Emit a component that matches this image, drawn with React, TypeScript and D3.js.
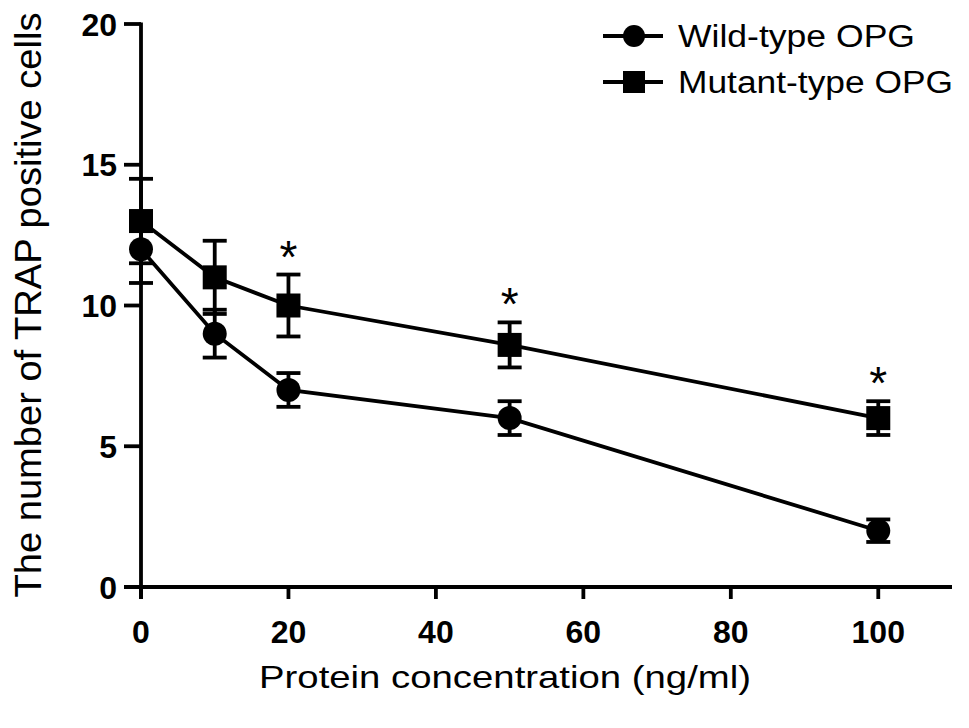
import React from "react";
import * as d3 from "d3";

const concentrations = [0, 10, 20, 50, 100];
const wildMean = [12, 9, 7, 6, 2];
const wildErr = [1.2, 0.85, 0.6, 0.6, 0.4];
const mutantMean = [13, 11, 10, 8.6, 6];
const mutantErr = [1.5, 1.3, 1.1, 0.8, 0.6];
const starAt = [20, 50, 100];
const xTicks = [0, 20, 40, 60, 80, 100];
const yTicks = [0, 5, 10, 15, 20];
const seriesNames = ["Wild-type OPG", "Mutant-type OPG"];

const W = 969;
const H = 728;
const FONT = "'Liberation Sans', Arial, Helvetica, sans-serif";

export default function App() {
  const x = d3.scaleLinear().domain([0, 110]).range([141, 952]);
  const y = d3.scaleLinear().domain([0, 20]).range([587, 24]);
  const line = d3
    .line<number>()
    .x((_, i) => x(concentrations[i]))
    .y((d) => y(d));
  const sw = 3.8;
  const cap = 12;

  const errBars = (means: number[], errs: number[], key: string) =>
    means.map((m, i) => {
      const cx = x(concentrations[i]);
      const y1 = y(m + errs[i]);
      const y2 = y(m - errs[i]);
      return (
        <g key={key + i} stroke="#000" strokeWidth={sw}>
          <line x1={cx} x2={cx} y1={y1} y2={y2} />
          <line x1={cx - cap} x2={cx + cap} y1={y1} y2={y1} />
          <line x1={cx - cap} x2={cx + cap} y1={y2} y2={y2} />
        </g>
      );
    });

  return (
    <svg
      width={W}
      height={H}
      style={{ position: "absolute", left: 0, top: 0, background: "#fff" }}
      fontFamily={FONT}
    >
      {/* axes */}
      <line x1={x(0)} x2={x(0)} y1={y(20) - 1.5} y2={y(0) + 12} stroke="#000" strokeWidth={sw} />
      <line x1={x(0) - 17} x2={x(110)} y1={y(0)} y2={y(0)} stroke="#000" strokeWidth={sw} />
      {yTicks.map((t) => (
        <g key={"yt" + t}>
          <line x1={x(0) - 17} x2={x(0)} y1={y(t)} y2={y(t)} stroke="#000" strokeWidth={sw} />
          <text x={117} y={y(t) + 11.5} textAnchor="end" fontSize={32} fontWeight="bold">
            {t}
          </text>
        </g>
      ))}
      {xTicks.map((t) => (
        <g key={"xt" + t}>
          <line x1={x(t)} x2={x(t)} y1={y(0)} y2={y(0) + 12} stroke="#000" strokeWidth={sw} />
          <text x={x(t)} y={643} textAnchor="middle" fontSize={32} fontWeight="bold">
            {t}
          </text>
        </g>
      ))}

      {/* titles */}
      <text x={505} y={688} textAnchor="middle" fontSize={32} textLength={492} lengthAdjust="spacingAndGlyphs">
        Protein concentration (ng/ml)
      </text>
      <text
        transform={`translate(41,305) rotate(-90)`}
        textAnchor="middle"
        fontSize={37}
        textLength={585}
        lengthAdjust="spacingAndGlyphs"
      >
        The number of TRAP positive cells
      </text>

      {/* series lines */}
      <path d={line(wildMean) || ""} fill="none" stroke="#000" strokeWidth={sw} />
      <path d={line(mutantMean) || ""} fill="none" stroke="#000" strokeWidth={sw} />
      {errBars(wildMean, wildErr, "we")}
      {errBars(mutantMean, mutantErr, "me")}
      {wildMean.map((m, i) => (
        <circle key={"wc" + i} cx={x(concentrations[i])} cy={y(m)} r={12} fill="#000" />
      ))}
      {mutantMean.map((m, i) => (
        <rect
          key={"mr" + i}
          x={x(concentrations[i]) - 12}
          y={y(m) - 12}
          width={24}
          height={24}
          fill="#000"
        />
      ))}

      {/* significance stars */}
      {starAt.map((c) => {
        const i = concentrations.indexOf(c);
        const top = y(mutantMean[i] + mutantErr[i]);
        return (
          <text key={"s" + c} x={x(c)} y={top - 2} textAnchor="middle" fontSize={46}>
            *
          </text>
        );
      })}

      {/* legend */}
      {seriesNames.map((name, i) => {
        const ly = 36 + i * 46;
        return (
          <g key={"lg" + i}>
            <line x1={603} x2={663} y1={ly} y2={ly} stroke="#000" strokeWidth={sw} />
            {i === 0 ? (
              <circle cx={634} cy={ly} r={11} fill="#000" />
            ) : (
              <rect x={623} y={ly - 11} width={22} height={22} fill="#000" />
            )}
            <text
              x={678}
              y={ly + 11}
              fontSize={31}
              textLength={i === 0 ? 237 : 275}
              lengthAdjust="spacingAndGlyphs"
            >
              {name}
            </text>
          </g>
        );
      })}
    </svg>
  );
}
